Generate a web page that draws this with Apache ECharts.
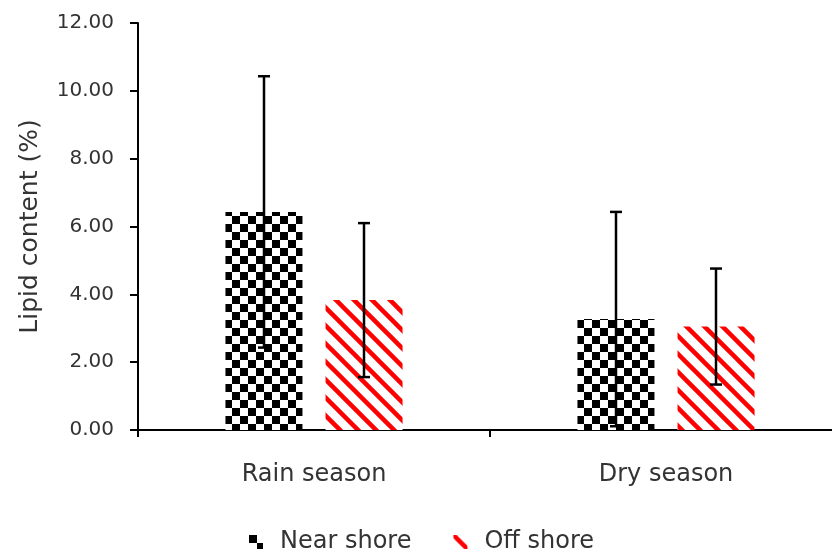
<!DOCTYPE html>
<html>
<head>
<meta charset="utf-8">
<script src="https://cdn.jsdelivr.net/npm/echarts@6/dist/echarts.min.js"></script>
<style>
    html, body { margin: 0; padding: 0; background: #fff; }
    #main { width: 832px; height: 550px; }
</style>
</head>
<body>
<div id="main"></div>
<script>
// 数据
const categories = ['Rain season', 'Dry season'];
const nearShore = [6.43, 3.27];
const nearShoreSD = [4.0, 3.16];
const offShore = [3.83, 3.05];
const offShoreSD = [2.27, 1.71];
const yTicks = [0, 2, 4, 6, 8, 10, 12];

const FONT = 'DejaVu Sans';

// 棋盘格图案
function makeChecker() {
    const c = document.createElement('canvas');
    c.width = 16; c.height = 16;
    const ctx = c.getContext('2d');
    ctx.fillStyle = '#fff';
    ctx.fillRect(0, 0, 16, 16);
    ctx.fillStyle = '#000';
    ctx.fillRect(0, 0, 8, 8);
    ctx.fillRect(8, 8, 8, 8);
    return c;
}

// 红色斜线图案
function makeStripes() {
    const s = 18;
    const c = document.createElement('canvas');
    c.width = s; c.height = s;
    const ctx = c.getContext('2d');
    ctx.fillStyle = '#fff';
    ctx.fillRect(0, 0, s, s);
    ctx.strokeStyle = '#ff0000';
    ctx.lineWidth = 4.5;
    ctx.beginPath();
    ctx.moveTo(-s, -s); ctx.lineTo(2 * s, 2 * s);
    ctx.moveTo(-s, 0); ctx.lineTo(s, 2 * s);
    ctx.moveTo(0, -s); ctx.lineTo(2 * s, s);
    ctx.stroke();
    return c;
}

const checker = { image: makeChecker(), repeat: 'repeat' };
const stripes = { image: makeStripes(), repeat: 'repeat' };

// 误差线
function errorBar(means, sds, offset) {
    return {
        type: 'custom',
        z: 10,
        silent: true,
        data: means.map((m, i) => [i, m, sds[i]]),
        renderItem: function (params, api) {
            const i = api.value(0);
            const m = api.value(1);
            const sd = api.value(2);
            const top = api.coord([i, m + sd]);
            const bot = api.coord([i, m - sd]);
            const x = top[0] + offset;
            const cap = 6;
            const style = { stroke: '#000', lineWidth: 2.5 };
            return {
                type: 'group',
                children: [
                    { type: 'line', shape: { x1: x, y1: top[1], x2: x, y2: bot[1] }, style: style },
                    { type: 'line', shape: { x1: x - cap, y1: top[1], x2: x + cap, y2: top[1] }, style: style },
                    { type: 'line', shape: { x1: x - cap, y1: bot[1], x2: x + cap, y2: bot[1] }, style: style }
                ]
            };
        }
    };
}

var dom = document.getElementById('main');
var myChart = echarts.init(dom, null, { renderer: 'canvas' });

var option = {
    animation: false,
    backgroundColor: '#fff',
    textStyle: { fontFamily: FONT },
    grid: { left: 138, top: 23, bottom: 120, right: -10, outerBoundsMode: 'none', containLabel: false },
    legend: {
        left: 244,
        top: 525,
        itemWidth: 14,
        itemHeight: 14,
        itemGap: 42,
        textStyle: { fontFamily: FONT, fontSize: 24, color: '#333', padding: [0, 0, 0, 12] },
        data: [
            { name: 'Near shore', icon: 'rect' },
            { name: 'Off shore', icon: 'rect' }
        ]
    },
    xAxis: {
        type: 'category',
        data: categories,
        axisLine: { lineStyle: { color: '#000', width: 2 } },
        axisTick: { show: true, length: 7, lineStyle: { color: '#000', width: 2 } },
        axisLabel: { fontFamily: FONT, fontSize: 24, color: '#333', margin: 33 }
    },
    yAxis: {
        type: 'value',
        min: yTicks[0],
        max: yTicks[yTicks.length - 1],
        interval: 2,
        name: 'Lipid content (%)',
        nameLocation: 'middle',
        nameGap: 95,
        nameTextStyle: { fontFamily: FONT, fontSize: 25, color: '#333' },
        axisLine: { show: true, lineStyle: { color: '#000', width: 2 } },
        axisTick: { show: true, length: 8, lineStyle: { color: '#000', width: 2 } },
        splitLine: { show: false },
        axisLabel: {
            fontFamily: FONT, fontSize: 20, color: '#333', margin: 24,
            formatter: function (v) { return v.toFixed(2); }
        }
    },
    series: [
        {
            name: 'Near shore',
            type: 'bar',
            barWidth: 77,
            barGap: '30%',
            data: nearShore,
            itemStyle: { color: checker }
        },
        {
            name: 'Off shore',
            type: 'bar',
            barWidth: 77,
            barGap: '30%',
            data: offShore,
            itemStyle: { color: stripes }
        },
        errorBar(nearShore, nearShoreSD, -50),
        errorBar(offShore, offShoreSD, 50)
    ]
};

myChart.setOption(option);
window.addEventListener('resize', myChart.resize);
</script>
</body>
</html>
